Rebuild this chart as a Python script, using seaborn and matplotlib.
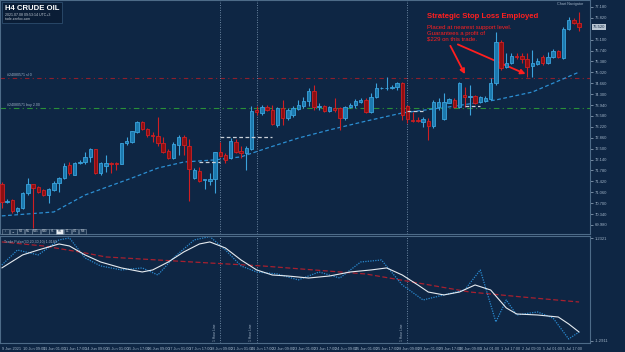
import matplotlib
matplotlib.use("Agg")
import matplotlib.pyplot as plt
from matplotlib.patches import Rectangle
import seaborn as sns
import pandas as pd
import numpy as np

# ---------------- data (H4 candles) ----------------
opens = [71.33, 70.74, 70.81, 70.44, 70.54, 71.04, 71.33, 71.23, 71.14, 70.97,
         71.14, 71.37, 71.53, 71.96, 71.63, 72.03, 72.06, 72.23, 72.49, 71.70,
         71.93, 72.03, 72.03, 71.99, 72.69, 72.72, 73.05, 73.38, 73.15, 72.95,
         72.92, 72.69, 72.42, 72.19, 72.62, 72.89, 72.59, 71.53, 71.76, 71.47,
         71.43, 71.50, 72.39, 72.29, 72.19, 72.72, 72.42, 72.36, 72.49, 73.78,
         73.68, 73.88, 73.78, 73.28, 73.84, 73.51, 73.61, 73.81, 73.91, 74.07,
         74.41, 73.88, 73.91, 73.74, 73.84, 73.84, 73.51, 73.88, 73.94, 74.04,
         74.11, 73.71, 74.21, 74.49, 74.49, 74.52, 74.54, 74.67, 73.91, 73.45,
         73.45, 73.38, 73.41, 73.25, 73.88, 73.48, 74.01, 74.11, 73.88, 74.27,
         74.21, 74.24, 74.04, 74.07, 74.14, 74.67, 76.02, 75.20, 75.33, 75.56,
         75.56, 75.46, 75.23, 75.30, 75.53, 75.33, 75.53, 75.73, 75.50, 76.45,
         76.75, 76.65]
highs = [71.40, 70.84, 70.84, 70.57, 71.07, 71.53, 71.35, 71.27, 71.17, 71.20,
         71.43, 71.56, 72.03, 72.06, 72.06, 72.13, 72.39, 72.52, 72.50, 72.06,
         72.29, 72.05, 72.06, 72.70, 72.89, 73.10, 73.40, 73.40, 73.18, 73.05,
         73.55, 72.89, 72.49, 72.72, 72.95, 72.95, 72.82, 71.86, 71.90, 71.48,
         71.70, 72.40, 72.72, 72.36, 72.85, 72.82, 72.59, 72.59, 73.91, 73.91,
         73.94, 73.94, 73.94, 73.88, 74.11, 73.84, 73.91, 74.11, 74.21, 74.50,
         74.60, 74.01, 73.94, 73.91, 74.17, 73.88, 73.91, 74.01, 74.14, 74.17,
         74.17, 74.34, 74.67, 74.54, 74.87, 74.60, 74.70, 74.70, 73.94, 73.71,
         73.55, 73.55, 73.51, 74.11, 74.17, 74.34, 74.17, 74.17, 74.70, 74.54,
         74.60, 74.27, 74.24, 74.24, 74.83, 76.35, 76.09, 75.66, 75.66, 75.66,
         75.66, 75.66, 75.76, 75.50, 75.59, 75.69, 75.79, 75.76, 76.52, 76.85,
         76.82, 77.01]
lows = [70.54, 70.71, 70.38, 70.38, 70.51, 70.97, 69.88, 71.04, 70.94, 70.71,
        71.10, 71.07, 71.50, 71.63, 71.63, 71.99, 71.99, 72.06, 71.68, 71.63,
        71.73, 71.70, 71.80, 71.98, 72.62, 72.69, 73.02, 73.12, 72.89, 72.72,
        72.59, 72.36, 72.17, 72.16, 72.29, 72.29, 70.77, 71.50, 71.40, 71.17,
        71.30, 71.04, 72.23, 72.03, 72.16, 72.36, 72.19, 71.80, 72.46, 73.61,
        73.61, 73.74, 73.28, 73.22, 73.28, 73.45, 73.55, 73.78, 73.84, 73.91,
        73.78, 73.78, 73.71, 73.71, 73.71, 73.12, 73.45, 73.84, 73.84, 74.01,
        73.68, 73.68, 74.17, 74.47, 74.44, 74.47, 74.44, 73.45, 73.35, 73.38,
        73.38, 73.22, 72.79, 73.18, 73.78, 73.45, 74.00, 73.84, 73.84, 73.88,
        73.61, 73.97, 74.01, 74.04, 74.11, 74.60, 75.10, 75.16, 75.30, 75.46,
        75.33, 74.87, 74.87, 75.26, 75.26, 75.30, 75.50, 75.50, 75.46, 76.42,
        76.62, 76.39]
closes = [70.74, 70.76, 70.44, 70.54, 71.04, 71.33, 71.20, 71.07, 70.97, 71.17,
          71.37, 71.53, 71.93, 71.70, 72.03, 72.06, 72.23, 72.49, 71.70, 72.03,
          72.03, 71.99, 71.99, 72.69, 72.75, 73.08, 73.38, 73.15, 72.95, 72.93,
          72.69, 72.39, 72.19, 72.65, 72.89, 72.62, 71.83, 71.80, 71.43, 71.48,
          71.50, 72.39, 72.26, 72.13, 72.75, 72.39, 72.36, 72.52, 73.74, 73.71,
          73.88, 73.78, 73.31, 73.84, 73.51, 73.78, 73.84, 73.94, 74.07, 74.41,
          73.88, 73.89, 73.74, 73.88, 73.78, 73.51, 73.88, 73.94, 74.07, 74.11,
          73.71, 74.21, 74.50, 74.50, 74.51, 74.54, 74.67, 73.61, 73.48, 73.43,
          73.43, 73.48, 73.25, 74.04, 74.04, 74.04, 74.14, 73.88, 74.67, 74.21,
          74.22, 74.01, 74.21, 74.17, 74.67, 76.02, 75.16, 75.33, 75.56, 75.54,
          75.46, 75.20, 75.33, 75.40, 75.33, 75.53, 75.73, 75.53, 76.45, 76.75,
          76.65, 76.52]

# moving average read at some candles
ma_idx = [0, 10, 16, 25, 30, 35, 41, 46, 51, 57, 63, 70, 77, 86, 95, 102, 111]
ma_val = [70.28, 70.41, 70.97, 71.53, 71.86, 72.06, 72.13, 72.23, 72.52, 72.85,
          73.12, 73.41, 73.68, 73.88, 74.11, 74.37, 75.03]

# levels
sl_level = 74.82
buy_level = 73.84
sl_label = "#24080571 sl 0"
buy_label = "#24080571 buy 2.00"

# trade markers (grey dashes): (start idx, end idx, price)
trade_start = [38, 42, 78, 89]
trade_end = [42, 52, 81, 92]
trade_price = [72.06, 72.89, 73.75, 73.91]

vlines_idx = [42, 49, 78]
vline_text = "1 Hour Line"

# x-axis labels, one every 4 candles
xlabels = ["9 Jun 2021", "10 Jun 09:00", "11 Jun 01:00", "11 Jun 17:00", "14 Jun 09:00",
           "15 Jun 01:00", "15 Jun 17:00", "16 Jun 09:00", "17 Jun 01:00", "17 Jun 17:00",
           "18 Jun 09:00", "21 Jun 01:00", "21 Jun 17:00", "22 Jun 09:00", "23 Jun 01:00",
           "23 Jun 17:00", "24 Jun 09:00", "25 Jun 01:00", "25 Jun 17:00", "28 Jun 09:00",
           "29 Jun 01:00", "29 Jun 17:00", "30 Jun 09:00", "1 Jul 01:00", "1 Jul 17:00",
           "2 Jul 09:00", "5 Jul 01:00", "5 Jul 17:00"]

# price axis ticks
price_ticks = [77.18, 76.82, 76.10, 75.74, 75.38, 75.02, 74.66, 74.30, 73.94, 73.58,
               73.22, 72.86, 72.50, 72.14, 71.78, 71.42, 71.06, 70.70, 70.34, 69.98]

# oscillator (lower panel)
osc_white_idx = [0, 4, 7, 11, 13, 16, 19, 23, 27, 29, 32, 35, 38, 40, 43, 46, 49, 52, 55,
                 59, 63, 67, 71, 74, 77, 80, 82, 85, 88, 91, 94, 97, 99, 103, 107, 109, 111]
osc_white = [67.0, 78.6, 83.0, 88.4, 86.6, 78.6, 72.3, 67.0, 63.4, 65.2, 72.3, 81.3, 88.4,
             90.2, 84.8, 74.1, 65.2, 60.7, 59.8, 58.0, 59.8, 63.4, 65.2, 67.0, 60.7, 51.8,
             45.5, 42.9, 45.5, 51.8, 47.3, 31.3, 25.9, 25.0, 23.2, 17.0, 9.8]
osc_blue_idx = [0, 3, 7, 11, 13, 16, 19, 23, 27, 30, 33, 37, 40, 43, 46, 49, 53, 57, 61,
                65, 69, 73, 77, 81, 85, 89, 92, 95, 97, 99, 103, 106, 109, 111]
osc_blue = [69.6, 83.0, 78.6, 92.0, 93.8, 75.9, 68.8, 65.2, 67.0, 60.7, 75.9, 92.0, 95.0,
            83.0, 68.8, 63.4, 61.6, 56.3, 63.4, 58.0, 72.3, 74.1, 51.8, 38.4, 42.9, 47.3,
            65.2, 18.8, 38.4, 25.0, 27.7, 22.3, 3.6, 9.8]
osc_red_idx = [0, 8, 16, 20, 30, 40, 50, 60, 70, 80, 90, 100, 111]
osc_red = [90.2, 86.6, 80.4, 76.8, 74.1, 71.4, 68.8, 65.2, 61.6, 53.6, 45.5, 41.1, 36.6]
osc_label = "Trade Pulse(30,20,30,10) 1.0180"

# ---------------- style ----------------
sns.set_theme(style="dark")
plt.rcParams['font.family'] = ['Liberation Sans', 'DejaVu Sans']

BG = "#0e2644"
BULL_FC, BULL_EC = "#1b78ad", "#3ba3dc"
BEAR_FC, BEAR_EC = "#8c0f12", "#d01f22"
TXT = "#9fb2c6"
SPINE = "#4d6b88"
W, H = 625, 352

fig = plt.figure(figsize=(6.25, 3.52), dpi=100, facecolor=BG)
ax = fig.add_axes([0, 1 - 234 / H, 590 / W, 234 / H])
ax2 = fig.add_axes([0, 1 - 343 / H, 590 / W, 107 / H])
for a in (ax, ax2):
    a.set_facecolor(BG)
    for s in a.spines.values():
        s.set_color(SPINE)
        s.set_linewidth(0.8)
    a.grid(False)

n = len(opens)
df = pd.DataFrame({"idx": np.arange(n), "open": opens, "high": highs,
                   "low": lows, "close": closes})
df["up"] = df["close"] >= df["open"]

for up, fc, ec in [(True, BULL_FC, BULL_EC), (False, BEAR_FC, BEAR_EC)]:
    d = df[df["up"] == up]
    ax.vlines(d["idx"], d["low"], d["high"], color=ec, lw=0.8, zorder=3)
    body = (d["close"] - d["open"]).abs().clip(lower=0.02)
    ax.bar(d["idx"], body, bottom=np.minimum(d["open"], d["close"]), width=0.66,
           color=fc, edgecolor=ec, linewidth=0.6, zorder=4)

ma_df = pd.DataFrame({"idx": ma_idx, "ma": ma_val})
sns.lineplot(data=ma_df, x="idx", y="ma", ax=ax, color="#2c8fd3", lw=0.9,
             linestyle=(0, (3, 2)), zorder=2)

ax.axhline(sl_level, color="#8e1f2c", lw=0.8, ls=(0, (4, 3, 1, 3)), zorder=1)
ax.axhline(buy_level, color="#2a8f38", lw=0.8, ls=(0, (5, 3, 1, 3)), zorder=1)
ax.text(1.0, sl_level + 0.05, sl_label, color=TXT, fontsize=2.6, va="bottom", ha="left")
ax.text(1.0, buy_level + 0.05, buy_label, color=TXT, fontsize=2.6, va="bottom", ha="left")

ax.hlines(trade_price, trade_start, trade_end, colors="#c9d0d8", lw=0.9,
          linestyles=(0, (3, 2)), zorder=5)

for vi in vlines_idx:
    for a in (ax, ax2):
        a.axvline(vi, color="#6d88a3", lw=0.7, ls=(0, (1, 1.5)), zorder=1)
    ax2.text(vi - 0.7, 2, vline_text, rotation=90, color=TXT, fontsize=2.4,
             ha="right", va="bottom")

# annotation
RED = "#ff1f1f"
ax.text(81.8, 76.85, "Strategic Stop Loss Employed", color=RED, fontsize=5.6,
        fontweight="bold", ha="left", va="center")
ax.text(81.8, 76.60, "Placed at nearest support level.\nGuarantees a profit of\n$229 on this trade.",
        color=RED, fontsize=4.3, ha="left", va="top", linespacing=1.25)
ax.annotate("", xy=(89.3, 74.88), xytext=(86.0, 75.98),
            arrowprops=dict(arrowstyle="-|>", color=RED, lw=1.3, mutation_scale=7))
ax.annotate("", xy=(101.2, 74.93), xytext=(87.2, 75.98),
            arrowprops=dict(arrowstyle="-|>", color=RED, lw=1.3, mutation_scale=7))

ax.set_xlim(-0.35, 113.1)
ax.set_ylim(69.682, 77.411)
ax.yaxis.tick_right()
ax.set_yticks(price_ticks)
ax.set_yticklabels([f"{v:.3f}" for v in price_ticks])
ax.tick_params(axis="y", colors=TXT, labelsize=3.0, length=2, width=0.5, pad=1.5)
ax.tick_params(axis="x", bottom=False, labelbottom=False)
ax.set_xlabel("")
ax.set_ylabel("")

# current price label
last = closes[-1]
ax.text(1.005, last, f"{last:.3f}", transform=ax.get_yaxis_transform(), fontsize=3.0,
        color="#0e2644", ha="left", va="center",
        bbox=dict(boxstyle="square,pad=0.15", fc="#b9c6d3", ec="none"))

# oscillator
w_df = pd.DataFrame({"idx": osc_white_idx, "v": osc_white})
b_df = pd.DataFrame({"idx": osc_blue_idx, "v": osc_blue})
r_df = pd.DataFrame({"idx": osc_red_idx, "v": osc_red})
sns.lineplot(data=r_df, x="idx", y="v", ax=ax2, color="#a8202f", lw=0.9, linestyle=(0, (4, 2)))
sns.lineplot(data=b_df, x="idx", y="v", ax=ax2, color="#2a8ad0", lw=0.9, linestyle=(0, (1, 1)))
sns.lineplot(data=w_df, x="idx", y="v", ax=ax2, color="#e6ebf0", lw=0.8)
ax2.set_xlim(-0.35, 113.1)
ax2.set_ylim(0, 95.5)
ax2.yaxis.tick_right()
ax2.set_yticks([93.5, 2.0])
ax2.set_yticklabels(["1.2321", "-1.2911"])
ax2.tick_params(axis="y", colors=TXT, labelsize=3.0, length=2, width=0.5, pad=1.5)
ax2.set_xticks(np.arange(0, 4 * len(xlabels), 4))
ax2.set_xticklabels(xlabels, ha="left")
ax2.tick_params(axis="x", colors=TXT, labelsize=2.8, length=2, width=0.5, pad=1)
ax2.set_xlabel("")
ax2.set_ylabel("")
ax2.text(0.007, 0.965, osc_label, transform=ax2.transAxes, color=TXT, fontsize=2.6,
         ha="left", va="top")

# title box
fig.patches.append(Rectangle((2 / W, 1 - 23 / H), 60 / W, 21 / H, transform=fig.transFigure,
                             fc="#0a1d36", ec="#2d4d6e", lw=0.6))
fig.text(5 / W, 1 - 9 / H, "H4 CRUDE OIL", color="white", fontsize=5.6, fontweight="bold",
         va="center", ha="left")
fig.text(5 / W, 1 - 15.5 / H, "2021.07.08 09:53:14 UTC+3", color="#c3ccd6", fontsize=2.6,
         va="center", ha="left")
fig.text(5 / W, 1 - 19.5 / H, "trade.zenfox.com", color="#c3ccd6", fontsize=2.4,
         va="center", ha="left")
fig.text(583 / W, 1 - 4.5 / H, "Chart Navigator", color=TXT, fontsize=2.7, va="center",
         ha="right")

# timeframe buttons
btns = ["\u2195", "\u2194", "M1", "M5", "M15", "M30", "H1", "H4", "D1", "W1", "MN"]
bx = 2
for b in btns:
    wdt = 7 if len(b) < 3 else 8
    active = b == "H4"
    fig.patches.append(Rectangle((bx / W, 1 - 234 / H), wdt / W, 5 / H, transform=fig.transFigure,
                                 fc="#e8ecf0" if active else "#1a3350", ec="#8096ab", lw=0.4))
    fig.text((bx + wdt / 2) / W, 1 - 231.5 / H, b, color="#0e2644" if active else "#c8d2dc",
             fontsize=2.0, ha="center", va="center")
    bx += wdt + 0.5

fig.savefig("out.png", dpi=100, facecolor=BG)
